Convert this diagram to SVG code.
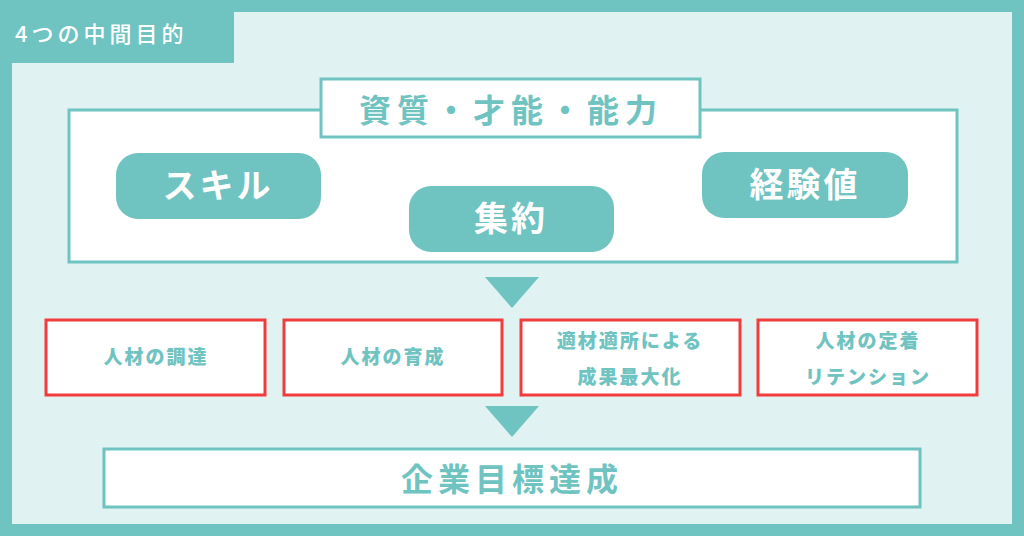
<svg xmlns="http://www.w3.org/2000/svg" width="1024" height="536" viewBox="0 0 1024 536">
<style>
text{font-family:"Noto Sans CJK JP","Noto Sans",sans-serif;text-anchor:middle}
.pill{fill:#6fc3c1}
.pt{fill:#fff;font-size:34px;font-weight:700;letter-spacing:3px}
.red{fill:#fff;stroke:#f23c3c;stroke-width:3}
.rt{fill:#6fc3c1;font-size:19px;font-weight:900;letter-spacing:2px}
.tb{fill:#fff;stroke:#6fc3c1;stroke-width:3}
</style>
<rect width="1024" height="536" fill="#6fc3c1"/>
<rect x="12" y="12" width="1000" height="512" fill="#e0f2f2"/>
<rect x="0" y="0" width="234" height="63" fill="#6fc3c1"/>
<text x="15" y="42" style="text-anchor:start;fill:#fff;font-size:22px;font-weight:500;letter-spacing:4px">4つの中間目的</text>
<g id="outer"><rect class="tb" x="69" y="110" width="888" height="152"/></g>
<g id="title"><rect class="tb" x="321" y="79" width="379" height="58"/>
<text x="511" y="122" style="fill:#6fc3c1;font-size:32px;font-weight:700;letter-spacing:6px">資質・才能・能力</text></g>
<g id="skill"><rect class="pill" x="116" y="153" width="205" height="66" rx="22"/><text class="pt" x="218" y="198">スキル</text></g>
<g id="shuyaku"><rect class="pill" x="409" y="186" width="205" height="66" rx="22"/><text class="pt" x="511" y="231">集約</text></g>
<g id="keiken"><rect class="pill" x="702" y="152" width="206" height="66" rx="22"/><text class="pt" x="805" y="197">経験値</text></g>
<g id="connectors" fill="#6fc3c1">
<polygon points="485,277 539,277 512,308"/>
<polygon points="485,406 539,406 512,437"/>
</g>
<g id="n1"><rect class="red" x="46" y="320" width="219" height="75"/><text class="rt" x="156" y="364">人材の調達</text></g>
<g id="n2"><rect class="red" x="284" y="320" width="218" height="75"/><text class="rt" x="393" y="364">人材の育成</text></g>
<g id="n3"><rect class="red" x="521" y="320" width="219" height="75"/><text class="rt" x="630" y="348">適材適所による</text><text class="rt" x="630" y="384">成果最大化</text></g>
<g id="n4"><rect class="red" x="758" y="320" width="219" height="75"/><text class="rt" x="868" y="348">人材の定着</text><text class="rt" x="868" y="384">リテンション</text></g>
<g id="goal"><rect class="tb" x="104" y="449" width="816" height="58"/>
<text x="512" y="491" style="fill:#6fc3c1;font-size:32px;font-weight:700;letter-spacing:5px">企業目標達成</text></g>
</svg>
